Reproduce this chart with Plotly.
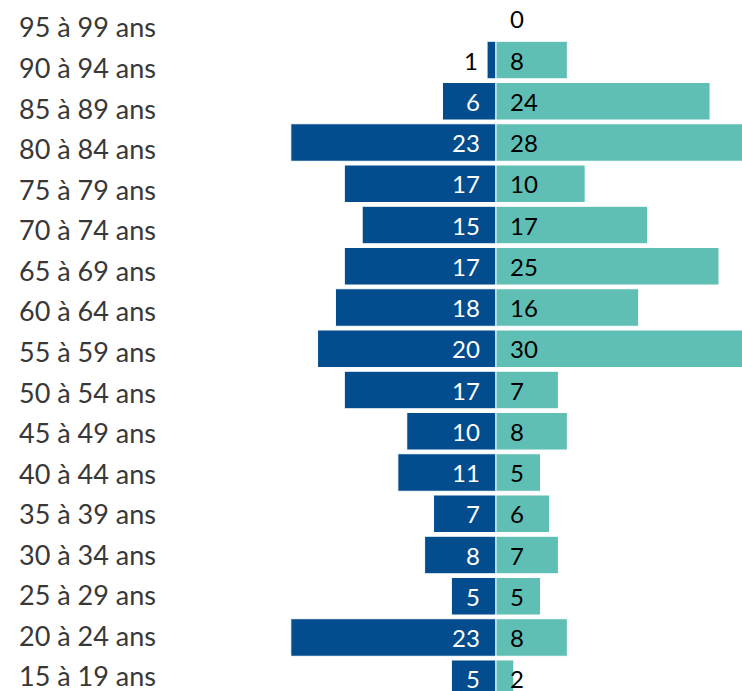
import plotly.graph_objects as go

# Age groups from bottom to top
age_groups = ["15 à 19 ans", "20 à 24 ans", "25 à 29 ans", "30 à 34 ans", "35 à 39 ans",
              "40 à 44 ans", "45 à 49 ans", "50 à 54 ans", "55 à 59 ans", "60 à 64 ans",
              "65 à 69 ans", "70 à 74 ans", "75 à 79 ans", "80 à 84 ans", "85 à 89 ans",
              "90 à 94 ans", "95 à 99 ans"]
left_values = [5, 23, 5, 8, 7, 11, 10, 17, 20, 18, 17, 15, 17, 23, 6, 1, 0]
right_values = [2, 8, 5, 7, 6, 5, 8, 7, 30, 16, 25, 17, 10, 28, 24, 8, 0]

BLUE = "#034D8E"
TEAL = "#60BFB5"
FONT = "Lato"

idx = list(range(len(age_groups)))

fig = go.Figure()
fig.add_trace(go.Bar(
    y=idx, x=[-v for v in left_values], orientation="h",
    marker=dict(color=BLUE, line=dict(color="white", width=1)),
    hoverinfo="skip", showlegend=False,
))
fig.add_trace(go.Bar(
    y=idx, x=right_values, orientation="h",
    marker=dict(color=TEAL, line=dict(color="white", width=1)),
    hoverinfo="skip", showlegend=False,
))
# invisible helper trace for label axis
fig.add_trace(go.Scatter(
    x=[0] * len(idx), y=idx, yaxis="y2", mode="markers",
    marker=dict(opacity=0), hoverinfo="skip", showlegend=False,
))

annotations = []
for i, v in enumerate(left_values):
    if v == 0:
        continue
    if v >= 2:
        annotations.append(dict(x=0, y=i, xref="x", yref="y", text=str(v),
                                xanchor="right", xshift=-14, showarrow=False,
                                font=dict(family=FONT, size=24, color="white")))
    else:
        annotations.append(dict(x=-v, y=i, xref="x", yref="y", text=str(v),
                                xanchor="right", xshift=-7, showarrow=False,
                                font=dict(family=FONT, size=24, color="black")))
for i, v in enumerate(right_values):
    annotations.append(dict(x=0, y=i, xref="x", yref="y", text=str(v),
                            xanchor="left", xshift=12, showarrow=False,
                            font=dict(family=FONT, size=24, color="black")))

fig.update_layout(
    width=742, height=691, autosize=False,
    margin=dict(l=0, r=0, t=0, b=0),
    paper_bgcolor="white", plot_bgcolor="white",
    barmode="overlay", bargap=0.09,
    xaxis=dict(range=[-55.6, 27.58], visible=False, fixedrange=True),
    yaxis=dict(range=[-0.297, 16.455], visible=False, fixedrange=True),
    yaxis2=dict(overlaying="y", anchor="free", position=156 / 742, side="left",
                range=[-0.345, 16.69], tickmode="array", tickvals=idx, ticktext=age_groups,
                showgrid=False, zeroline=False, showline=False, ticks="",
                ticklabeloverflow="allow",
                tickfont=dict(family=FONT, size=27, color="#383838"), fixedrange=True),
    annotations=annotations,
)

fig.write_html(
    "out.html",
    config={"displayModeBar": False, "staticPlot": True},
    post_script="document.body.style.margin='0';document.body.style.overflow='hidden';",
)
